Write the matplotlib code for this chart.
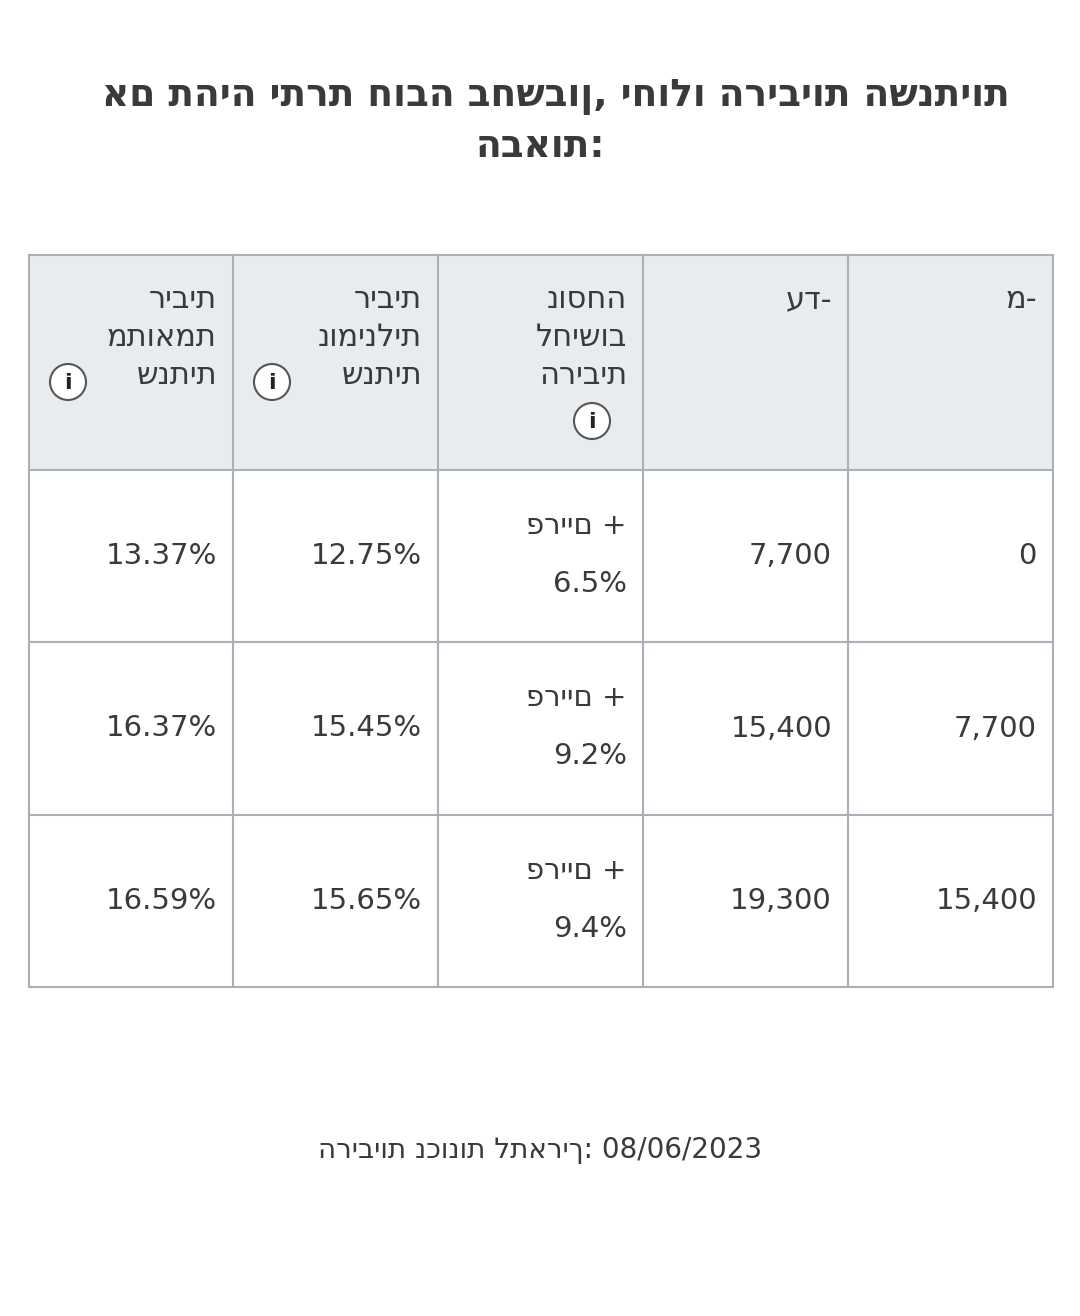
import matplotlib
matplotlib.use("Agg")
import matplotlib.pyplot as plt
from matplotlib.patches import Rectangle, Circle

plt.rcParams['font.family'] = ['DejaVu Sans']

title_lines = ["אם תהיה יתרת חובה בחשבון, יחולו הריביות השנתיות", "הבאות:"]
headers = [["מ-"], ["עד-"], ["נוסחה", "לחישוב", "הריבית"], ["ריבית", "נומינלית", "שנתית"], ["ריבית", "מתואמת", "שנתית"]]
col_from = ["0", "7,700", "15,400"]
col_to = ["7,700", "15,400", "19,300"]
formula_add = ["6.5%", "9.2%", "9.4%"]
nominal = ["12.75%", "15.45%", "15.65%"]
effective = ["13.37%", "16.37%", "16.59%"]
footer = "הריביות נכונות לתאריך: 08/06/2023"

TXT = "#3a3a3a"
LINE = "#a9b0b8"

# the text renderer already reorders RTL text, so strings stay in logical order
fig = plt.figure(figsize=(10.8, 13.16), dpi=100)
ax = fig.add_axes([0, 0, 1, 1])
ax.set_xlim(0, 1080)
ax.set_ylim(1316, 0)
ax.axis("off")

ax.text(1010, 97, title_lines[0], ha="right", va="center", fontsize=27, color=TXT, weight="semibold")
ax.text(605, 147, title_lines[1], ha="right", va="center", fontsize=27, color=TXT, weight="semibold")

xs = [1053, 848, 643, 438, 233, 29]  # right to left
ys = [255, 470, 642, 815, 987]

ax.add_patch(Rectangle((29, 255), 1024, 215, facecolor="#e9ecef", edgecolor="none"))
for x in xs:
    ax.plot([x, x], [ys[0], ys[-1]], color=LINE, lw=1.5)
for y in ys:
    ax.plot([29, 1053], [y, y], color=LINE, lw=1.5)


def info_icon(cx, cy):
    ax.add_patch(Circle((cx, cy), 18, facecolor="white", edgecolor="#555", lw=1.5))
    ax.text(cx, cy + 1, "i", ha="center", va="center", fontsize=16, weight="bold", color="#222")


for i, lines in enumerate(headers):
    xr = xs[i] - 16
    for j, ln in enumerate(lines):
        ax.text(xr, 300 + j * 38, ln, ha="right", va="center", fontsize=22, color=TXT)
info_icon(592, 421)
info_icon(272, 382)
info_icon(68, 382)

for r in range(3):
    yc = (ys[r + 1] + ys[r + 2]) / 2
    vals = [col_from[r], col_to[r], None, nominal[r], effective[r]]
    for i, v in enumerate(vals):
        xr = xs[i] - 16
        if v is None:
            ax.text(xr, yc - 30, "פריים +", ha="right", va="center", fontsize=21, color=TXT)
            ax.text(xr, yc + 28, formula_add[r], ha="right", va="center", fontsize=21, color=TXT)
        else:
            ax.text(xr, yc, v, ha="right", va="center", fontsize=21, color=TXT)

ax.text(540, 1150, footer, ha="center", va="center", fontsize=20, color=TXT)

fig.savefig("out.png", dpi=100, facecolor="white")
